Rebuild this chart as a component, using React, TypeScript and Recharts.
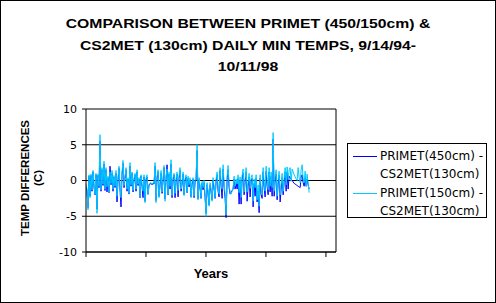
import React from 'react';
import { LineChart, Line, XAxis, YAxis, CartesianGrid, ReferenceLine, Legend } from 'recharts';

// Daily min temperature differences (C), 9/14/94 - 10/11/98, one reading per ~6.7 days
const START_DAY = 0;
const STEP_DAYS = 1488 / 223;

const seriesNames = ['PRIMET(450cm) - CS2MET(130cm)', 'PRIMET(150cm) - CS2MET(130cm)'];
const seriesColors = ['#0000FF', '#00CCFF'];

const primet450Diff = [
  -0.8, -1.5, -3.8, 0.6, -2.2, 0.7, -1.5, 1.2, -0.9, -2.0,
  0.8, -4.0, 0.7, -1.0, 5.5, -1.5, 1.5, -0.7, 2.3, -1.4,
  1.5, -1.6, 0.4, -1.7, 2.0, -0.6, 1.0, -1.5, 0.5, -1.0,
  1.0, -3.0, 0.1, 1.7, -1.3, -3.7, 0.8, 2.4, -1.0, 0.3,
  1.5, -1.5, 0.2, -1.9, 2.0, -0.8, 1.0, -1.6, 0.1, 0.8,
  -1.5, 1.2, -0.7, 0.2, -2.4, 0.6, -0.8, -2.4, 0.5, -2.9,
  0.1, 0.5, -1.9, -0.6, -0.5, -0.4, -0.6, -0.4, -0.5, 2.0,
  -2.8, 0.3, 1.2, -2.2, -0.6, 1.0, -1.8, 0.0, 1.8, -2.6,
  0.2, 2.2, -2.0, 0.9, -1.2, 2.3, -2.4, 0.1, 0.8, -2.4,
  -0.1, 0.9, -2.3, 0.3, 1.4, -1.5, -0.5, 0.9, -2.0, 0.0,
  0.5, -1.7, 0.3, -0.9, 0.1, -2.3, -0.5, 0.2, -2.4, -0.2,
  0.1, 4.2, -2.6, 0.1, -1.2, -2.5, -0.4, -1.3, -0.3, -2.4,
  -4.6, -0.6, -1.8, -3.4, -0.6, -1.5, -2.7, 0.0, -1.2, -2.5,
  -0.1, 0.8, -1.5, -2.3, 1.4, -0.8, -2.5, 1.6, -1.0, -2.5,
  -5.2, 0.1, 1.5, -1.0, -1.9, -1.7, -1.4, -1.2, 0.2, -1.2,
  -0.3, -1.2, 0.3, -3.3, 0.0, -3.3, 0.2, 1.0, -2.0, -0.2,
  1.2, -2.9, -0.8, 0.5, -2.3, 0.0, 0.3, -3.7, -0.4, -2.2,
  0.3, -3.0, -1.5, -4.5, 0.3, -2.0, -2.5, 1.2, -1.0, -2.3,
  1.3, -0.8, -2.0, 1.2, -1.6, 0.6, -2.2, 5.8, -2.2, 0.0,
  0.9, -2.7, -0.5, 0.7, -3.0, -1.2, 0.4, -2.0, -0.3, 1.2,
  -1.5, 1.2, -1.2, 0.6, 0.4, 0.2, 0.0, -0.2, -0.4, -0.5,
  -0.6, -0.7, -0.8, -0.9, -1.0, 0.5, 0.8, -0.3, -0.8, 0.4,
  -0.8, 0.2, -0.6, -1.2,
];

const primet150Diff = [
  -0.5, -1.2, -4.1, 0.8, -2.4, 0.9, -1.3, 1.4, -0.6, -1.9,
  1.0, -4.6, 0.9, -0.8, 6.4, -1.3, 1.8, -0.5, 2.7, -1.2,
  1.8, -0.9, 0.6, -1.6, 1.2, -0.4, 1.4, -1.2, 0.7, -0.8,
  1.4, -2.2, 0.3, 2.0, -1.0, -2.4, 1.1, 2.8, -0.7, 0.5,
  1.8, -1.2, 0.4, -1.8, 2.5, -0.6, 1.2, -1.4, 0.3, 1.0,
  -1.2, 1.5, -0.5, 0.4, -2.3, 0.8, -0.6, -1.5, 0.8, -3.1,
  0.3, 0.8, -2.0, -0.5, -0.4, -0.3, -0.5, -0.3, -0.4, 2.5,
  -3.1, 0.6, 1.5, -2.4, -0.3, 1.4, -1.6, 0.2, 2.1, -2.9,
  0.5, 1.6, -1.9, 1.2, -0.8, 2.9, -2.1, 0.4, 1.0, -1.8,
  0.2, 1.2, -1.4, 0.6, 1.8, -1.2, -0.2, 1.2, -2.1, 0.3,
  0.8, -1.6, 0.6, -0.6, 0.4, -2.4, -0.2, 0.4, -2.2, 0.1,
  0.4, 5.0, -2.7, 0.4, -0.9, -2.4, -0.1, -1.0, 0.0, -2.2,
  -5.0, -0.3, -1.5, -3.6, -0.3, -1.2, -2.9, 0.4, -0.8, -2.4,
  0.2, 1.2, -1.0, -1.9, 1.8, -0.3, -1.2, 2.2, -0.5, -1.8,
  -4.8, 0.5, 2.1, -0.6, -1.6, -1.9, -1.5, -1.0, 0.6, -0.8,
  0.2, -0.5, 0.8, -1.7, 0.5, -2.4, 0.7, 1.6, -1.6, 0.3,
  1.8, -1.6, -0.2, 1.0, -1.1, 0.4, 0.8, -2.9, 0.2, -1.0,
  0.8, -2.7, -0.6, -3.6, 0.8, -1.2, -2.0, 1.8, -0.3, -1.5,
  2.0, 0.2, -1.3, 1.8, -0.8, 1.2, -1.0, 6.7, -1.5, 0.6,
  1.5, -2.2, 0.2, 1.3, -2.0, -0.5, 1.0, -1.5, 0.3, 1.8,
  -0.6, 1.9, 0.1, 1.5, 1.8, -0.1, 1.6, 1.2, 0.8, 0.5,
  0.2, 0.0, 1.8, 0.4, -0.3, 1.5, 2.2, 0.3, -0.3, 1.3,
  -0.8, 0.9, -0.5, -1.7,
];

const yTicks = [-10, -5, 0, 5, 10];
const xTicks = [0, 400, 800, 1200, 1600];
const X_MAX = 1667;

const titleLines = [
  'COMPARISON BETWEEN PRIMET (450/150cm) &',
  'CS2MET (130cm) DAILY MIN TEMPS, 9/14/94-',
  '10/11/98',
];
const yLabelLines = ['TEMP DIFFERENCES', '(C)'];
const xLabel = 'Years';

const data = primet450Diff.map((v, i) => ({
  day: START_DAY + i * STEP_DAYS,
  a: v,
  b: primet150Diff[i],
}));

const LegendBox = (props: any) => {
  const payload = [...(props.payload || [])].sort(
    (p: any, q: any) => seriesNames.indexOf(p.value) - seriesNames.indexOf(q.value)
  );
  return (
    <div
      style={{
        border: '1px solid #000',
        boxSizing: 'border-box',
        width: 140,
        height: 75,
        padding: '2px 0 0 4px',
        background: '#fff',
        fontFamily: '"DejaVu Sans", sans-serif',
        fontSize: 12,
        color: '#000',
      }}
    >
      {payload.map((p: any, i: number) => {
        const parts = String(p.value).split(' - ');
        return (
          <div key={i} style={{ display: 'flex', alignItems: 'flex-start', marginTop: 1 }}>
            <svg width={28} height={18} style={{ flex: 'none' }}>
              <line x1={1} y1={9.5} x2={25} y2={9.5} stroke={p.color} strokeWidth={1} />
            </svg>
            <div style={{ lineHeight: '18px', whiteSpace: 'nowrap' }}>
              <div>{parts[0]} -</div>
              <div>{parts[1]}</div>
            </div>
          </div>
        );
      })}
    </div>
  );
};

export default function App() {
  return (
    <div style={{ position: 'relative', width: 496, height: 303, background: '#fff', overflow: 'hidden' }}>
      <style>{'body{margin:0;}'}</style>
      <div
        style={{
          position: 'absolute',
          left: 0,
          top: 0,
          width: 496,
          height: 303,
          border: '1px solid #000',
          boxSizing: 'border-box',
          pointerEvents: 'none',
          zIndex: 2,
        }}
      />
      <div
        style={{
          position: 'absolute',
          left: 0,
          top: 14,
          width: 496,
          textAlign: 'center',
          fontFamily: '"Liberation Sans", Arial, sans-serif',
          fontWeight: 'bold',
          fontSize: 12.5,
          lineHeight: '21.5px',
          color: '#000',
          transform: 'scaleX(1.26)',
          transformOrigin: '248px 0',
        }}
      >
        {titleLines.map((t, i) => (
          <div key={i}>{t}</div>
        ))}
      </div>
      <div
        style={{
          position: 'absolute',
          left: 33 - 70,
          top: 178 - 14,
          width: 140,
          height: 28,
          transform: 'rotate(-90deg)',
          transformOrigin: '70px 14px',
          textAlign: 'center',
          fontFamily: '"Liberation Sans", Arial, sans-serif',
          fontWeight: 'bold',
          fontSize: 11.5,
          lineHeight: '13px',
          color: '#000',
        }}
      >
        {yLabelLines.map((t, i) => (
          <div key={i}>{t}</div>
        ))}
      </div>
      <div
        style={{
          position: 'absolute',
          left: 161,
          top: 266,
          width: 100,
          textAlign: 'center',
          fontFamily: '"Liberation Sans", Arial, sans-serif',
          fontWeight: 'bold',
          fontSize: 13,
          lineHeight: '16px',
          color: '#000',
        }}
      >
        {xLabel}
      </div>
      <div style={{ position: 'absolute', left: 0, top: 0 }}>
        <LineChart
          width={496}
          height={303}
          data={data}
          margin={{ top: 109, right: 160, bottom: 31, left: 46 }}
        >
          <CartesianGrid horizontal vertical={false} stroke="#000" strokeWidth={1} />
          <XAxis
            type="number"
            dataKey="day"
            domain={[0, X_MAX]}
            ticks={xTicks}
            tickFormatter={() => ''}
            tickSize={5}
            height={20}
            axisLine={{ stroke: '#000' }}
            tickLine={{ stroke: '#000' }}
            allowDataOverflow
          />
          <YAxis
            type="number"
            domain={[-10, 10]}
            ticks={yTicks}
            width={40}
            tickSize={4}
            tickMargin={5}
            interval={0}
            axisLine={{ stroke: '#000' }}
            tickLine={{ stroke: '#000' }}
            tick={{ fill: '#000', fontSize: 11, fontFamily: '"DejaVu Sans", sans-serif' }}
            allowDataOverflow
          />
          <ReferenceLine x={X_MAX} stroke="#000" strokeWidth={1} />
          <Line
            type="linear"
            dataKey="a"
            name={seriesNames[0]}
            stroke={seriesColors[0]}
            strokeWidth={1}
            dot={false}
            activeDot={false}
            isAnimationActive={false}
          />
          <Line
            type="linear"
            dataKey="b"
            name={seriesNames[1]}
            stroke={seriesColors[1]}
            strokeWidth={1}
            dot={false}
            activeDot={false}
            isAnimationActive={false}
          />
          <Legend
            layout="horizontal"
            align="center"
            verticalAlign="middle"
            content={<LegendBox />}
            wrapperStyle={{ position: 'absolute', left: 347, top: 143, width: 140, height: 75, margin: 0 }}
          />
        </LineChart>
      </div>
    </div>
  );
}
